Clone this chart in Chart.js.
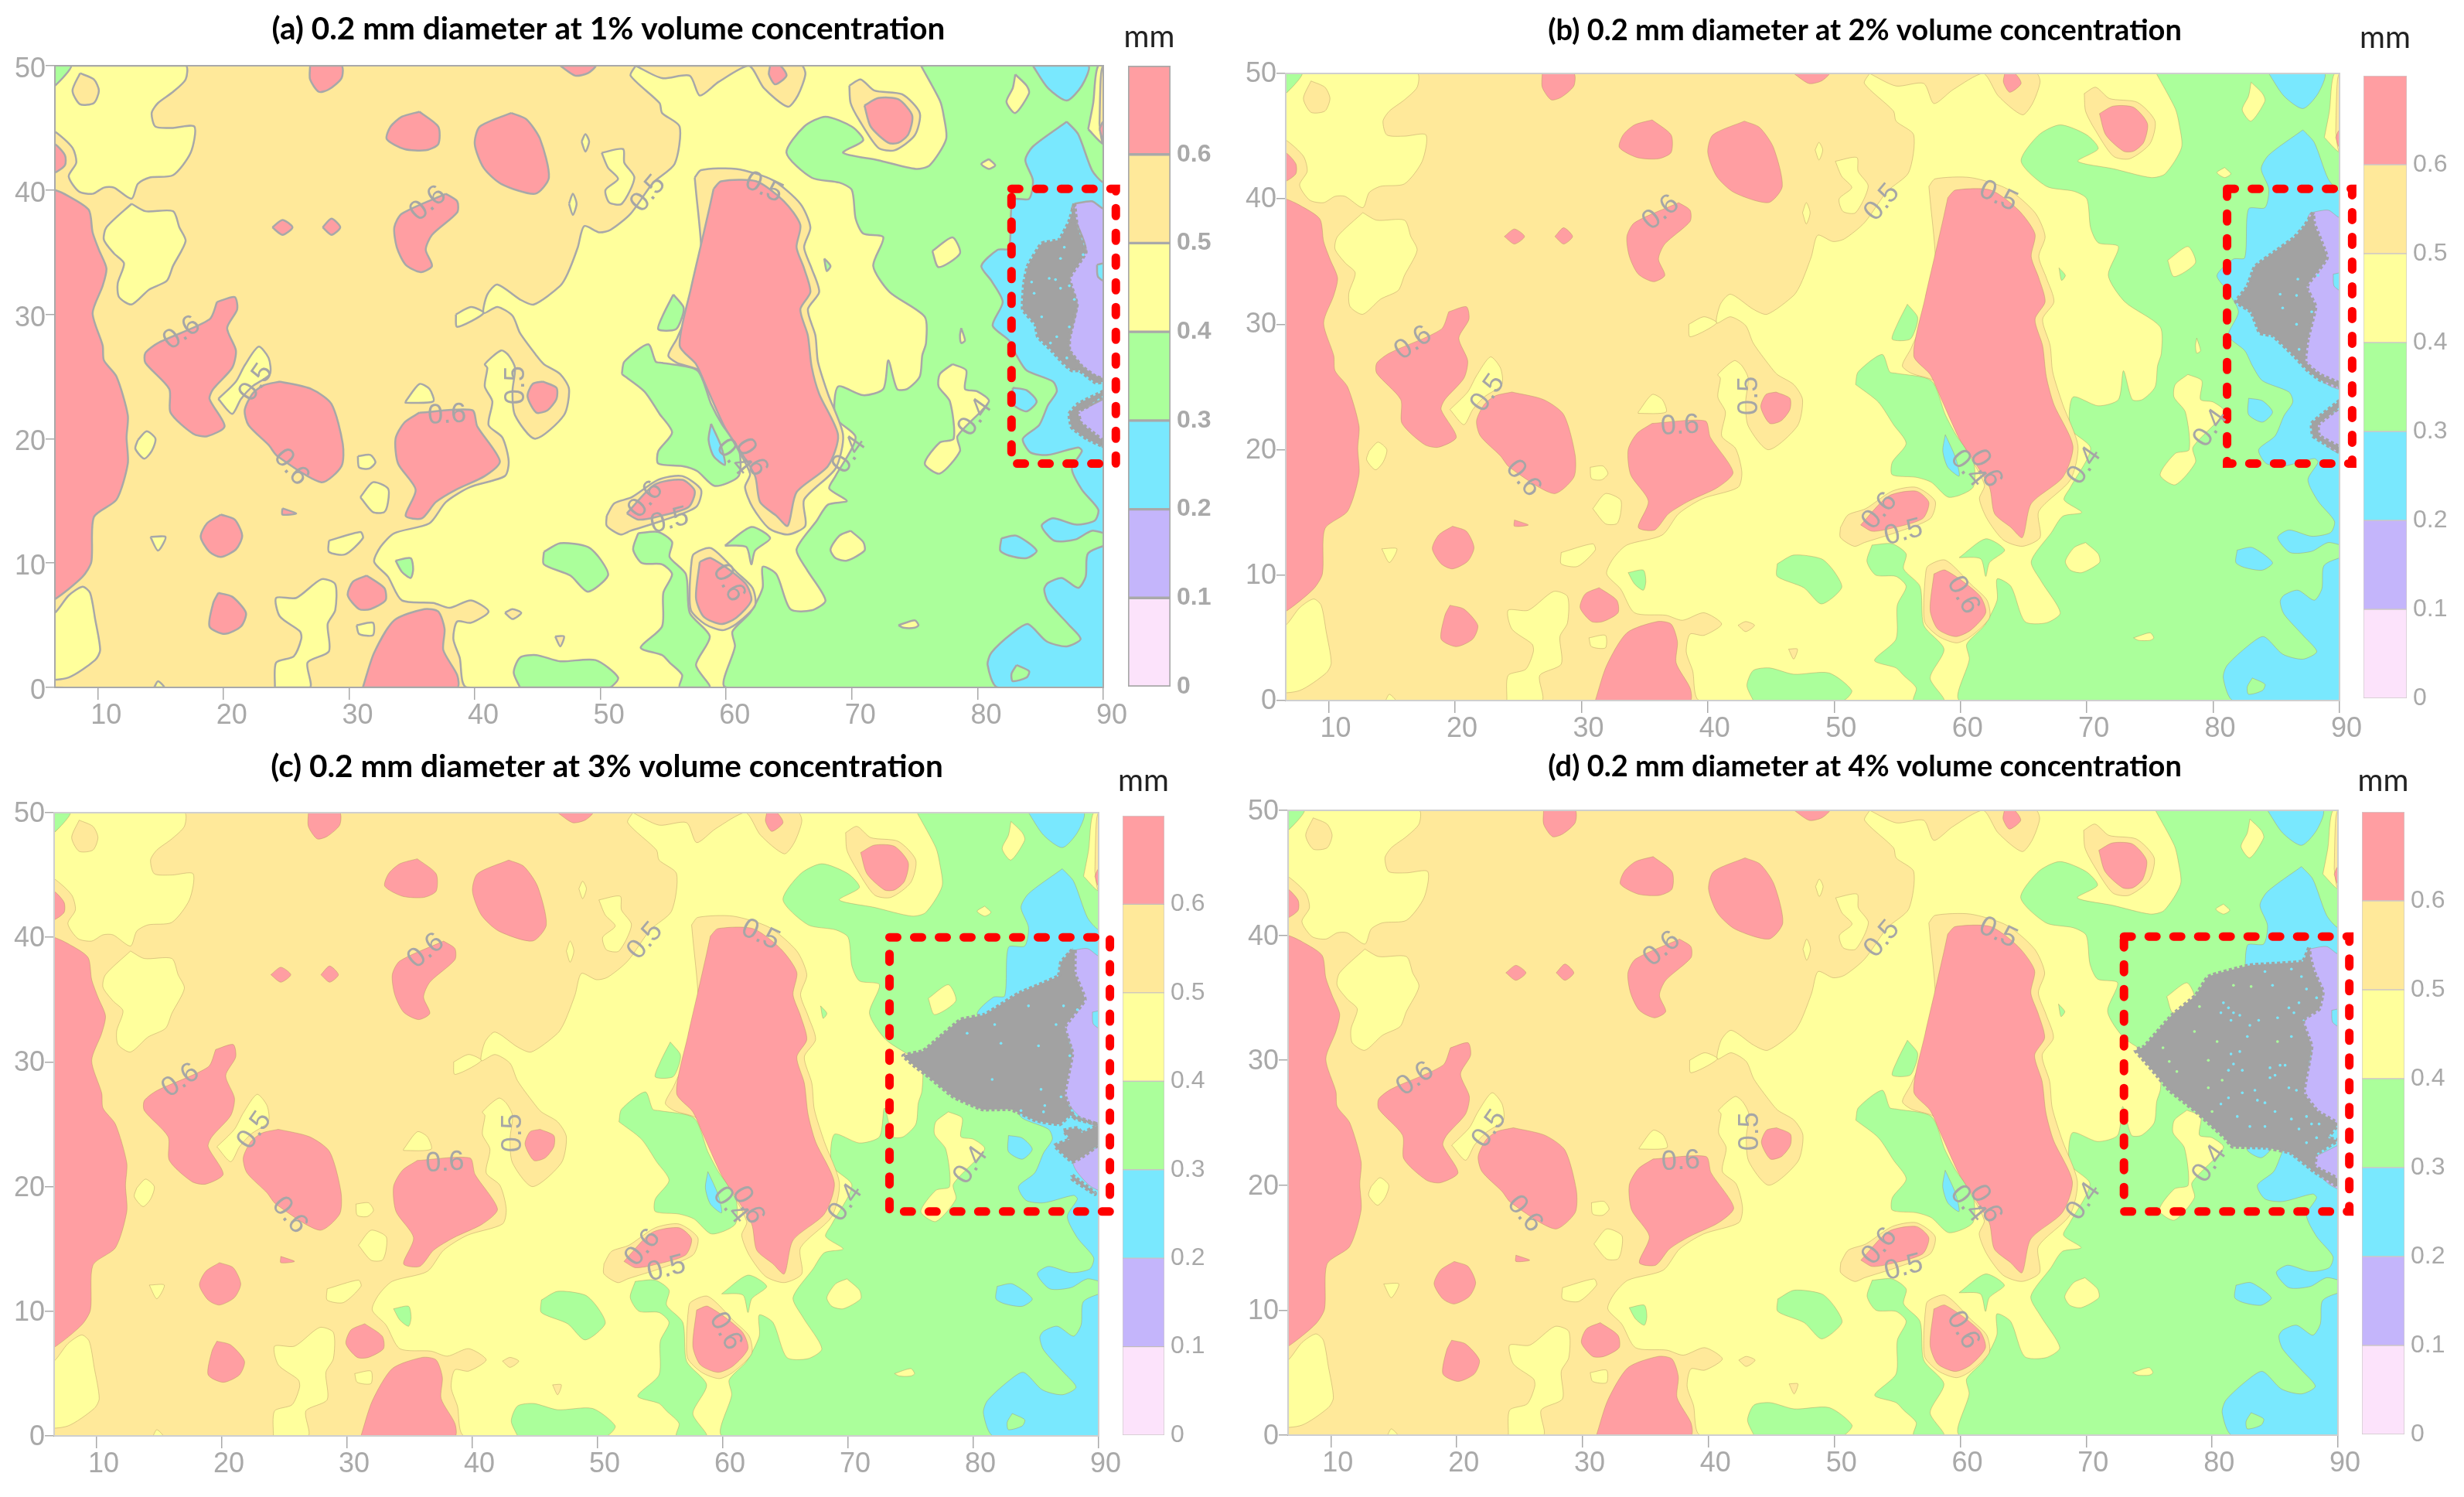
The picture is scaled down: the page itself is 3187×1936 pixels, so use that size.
<!DOCTYPE html>
<html><head><meta charset="utf-8">
<script src="https://cdn.jsdelivr.net/npm/chart.js@4"></script>
<style>html,body{margin:0;padding:0;background:#fff;overflow:hidden;width:3187px;height:1936px}canvas{position:absolute;display:block}</style>
</head><body>
<script>
// ---------- Chart values (data units: x 6.6-90, y 0-50, mm bands) ----------
const titles=["(a) 0.2 mm diameter at 1% volume concentration","(b) 0.2 mm diameter at 2% volume concentration","(c) 0.2 mm diameter at 3% volume concentration","(d) 0.2 mm diameter at 4% volume concentration"];
const barUnit="mm";
const bandValues=[0.1,0.1,0.1,0.1,0.1,0.1,0.1];
const bandColors=["#fce3fb","#c4b5fb","#79e8fe","#abff9b","#ffff9c","#ffe99a","#ff9ea2"];
const [PINK,PURPLE,CYAN,GREEN,YELLOW,ORANGE,RED]=bandColors;
const GREY="#a2a2a2";
const xMin=6.6,xMax=90,yMin=0,yMax=50;

const plotBase=[[6,0],[6,50],[91,50],[91,0]];
const yellowMain=[[52.8,50],[52.4,49.2],[54.7,47],[54.9,46.2],[56.3,45.1],[55.9,42.1],[54.2,40.6],[52.4,38.1],[50.8,36.8],[49.9,36.6],[48.7,37.1],[48.2,35.4],[47.4,33.3],[46.8,32.3],[44.7,30.8],[43.6,31.2],[41.8,32.4],[41,31.6],[40.7,30.1],[41.8,30.6],[43,29.9],[43.6,28.5],[44.9,26.7],[45.5,26],[46.8,25.2],[47.5,24],[47.1,21.9],[44.8,20],[43.2,21.9],[43,23.8],[43.2,25.7],[42.7,26.7],[42.1,27.1],[40.8,26],[41,25.7],[40.8,24.2],[41.4,23],[41.1,21.1],[42.2,20.1],[42.7,18.2],[42.4,17],[39.6,16.1],[37.7,14.9],[36.4,13.2],[33.6,12.4],[32.5,11.3],[32,10.1],[33.1,8.9],[34.2,7],[36.7,6.8],[38,6.4],[39.7,7],[41.1,6.1],[39.7,5.2],[38.6,5.3],[38.3,3.9],[38.8,2.4],[39.4,0],[91,0],[91,50]];
const yellowTopLeft=[[7.9,50],[17,50],[17,48.9],[16,47.9],[14.8,47],[14.3,46.2],[14.6,45.1],[16,45],[17.7,45.1],[17.4,43],[16,41.2],[14.1,41],[13.2,40.5],[12.7,39.3],[11.3,40.2],[10.5,40.2],[9.6,39.7],[8.5,39.9],[7.7,41.1],[8.3,42.2],[8,43.4],[6.6,44.7],[6,44.7],[6,48.4],[6.6,48.4]];
const yellowLeftMid=[[12.7,38.9],[13.8,38.3],[16,38.3],[16.5,37],[17,35.9],[16,33.9],[15.5,32.7],[14.1,32],[12.7,30.8],[11.7,31.4],[11.6,32.5],[12.1,34.1],[11.3,34.9],[10.5,36],[10.7,37]];
const yellowBottomLeft=[[6,6],[6.6,6],[7.7,7.4],[8.8,8.1],[9.4,7.6],[9.8,5.5],[10.2,3],[9.8,2.2],[7.7,0.8],[6,0.8]];
const yellowBottom=[[24.1,0],[24.2,2],[25.6,2.5],[26.2,3.9],[26.1,4.5],[24.5,5.7],[24.2,7.2],[25.8,7.2],[27.8,8.7],[28.9,8.3],[28.9,6.2],[28.3,5.1],[28.4,2.9],[26.7,2],[26.9,0]];
const yellowFinger=[[19.6,23.2],[21,24.6],[21.7,25.9],[22.8,27.4],[23.6,26.5],[23.7,25.2],[22.3,24.2],[21.4,23.2],[20.7,22]];
const yellowPairTop=[[50.1,43],[51.8,43.3],[51.9,42.2],[52.7,41],[51.7,38.9],[50.7,39],[50.4,40],[51.4,40.9],[50.6,41.8]];
const yellowSmallA=[[13.2,19.9],[13.9,20.6],[14.6,20],[14.3,19],[13.7,18.4],[13,19.2]];
const yellowSmallB=[[34.5,23],[35.6,24.4],[36.4,24],[36.7,23],[34.5,22.9]];
const yellowSmallC=[[30.7,18.6],[31.7,18.7],[32.1,18.1],[31.6,17.6],[30.8,17.7]];
const yellowSmallD=[[30.9,15.3],[31.9,16.5],[33.1,16],[33.1,14.9],[32.8,14.1],[31.9,14.1]];
const yellowSmallE=[[28.4,11.8],[30.9,12.5],[31.1,12],[29.7,10.7],[28.4,10.9]];
const yellowSmallF=[[30.6,5],[31.9,5.2],[31.9,4.2],[30.8,4.3]];
const yellowSmallG=[[14.2,12.1],[15.4,12.1],[14.8,11]];
const yellowSmallH=[[14.5,0],[14.8,0.5],[15.3,0]];
const yellowSmallI=[[38.5,30],[39.7,30.6],[40.7,30.1],[38.6,29]];
const yellowDotA=[[48.5,43.9],[48.8,44.5],[49.1,43.9],[48.8,43.1]];
const yellowDotB=[[47.5,38.9],[47.8,39.7],[48.1,38.9],[47.8,38]];

const greenCorner=[[6,50],[7.9,50],[6.6,48.4],[6,48.4]];
const greenMain=[[75.5,50],[77,47.2],[77.3,46],[77.5,44.1],[76.2,42],[75.1,41.7],[72.1,42.4],[69.3,43],[70.9,44],[70,45.1],[67.9,45.9],[66.2,45.1],[64.8,43],[66.8,41],[69,40.6],[70,40],[70.3,37.7],[70.9,36.5],[72.5,36.2],[71.7,33.9],[73,31.8],[75.8,29.8],[75.9,27.7],[75.6,26.7],[75.4,25],[74.4,24],[73.6,24],[72.9,26.3],[72.5,24],[70.9,23.5],[68.9,24.2],[68.7,21.7],[70.3,20.1],[68.7,17],[68.2,16],[69.6,15],[68.1,14.7],[67.2,13.4],[65.6,11.1],[66.4,9.5],[67.9,7],[66.8,6.2],[65.1,6.3],[64,9.1],[62.9,9.7],[62.9,8],[61.9,6],[60.5,4.5],[60.7,3.3],[60,0],[91,0],[91,50]];
const greenLeftOfRed=[[51.7,25.2],[51.9,26.2],[53.8,27.6],[54.4,26.2],[54.9,26.1],[57.7,25.5],[58.8,22.8],[59.7,21.1],[61,19.2],[61,17],[59.1,16.2],[57.7,17.4],[56.5,17.8],[54.6,18],[54.6,19],[55.7,20.5],[54.7,22],[53.5,23.8]];
const greenLower=[[53,12.4],[54.6,12.5],[55.7,11.7],[55.5,10.5],[56.8,9.1],[57.1,6],[58.7,4.1],[57.6,1.8],[58.7,0],[56.3,0],[56.5,1],[55.5,2],[54.9,2.6],[53.2,3.2],[54.9,4.9],[55,7.6],[55.7,9.1],[54.9,9.9],[53.3,10],[52.6,11.1]];
const greenIslandA=[[59.9,11.4],[62,12.9],[63.5,12],[62.3,11],[62,9.9],[61.6,11.3]];
const greenIslandB=[[45.5,10.9],[46.8,11.6],[49,11.3],[50,10.3],[50.6,9],[49,7.7],[47.6,9],[45.5,9.9]];
const greenIslandC=[[33.7,10.2],[34.9,10.4],[35.1,9.5],[34.9,8.8],[34.2,9.3]];
const greenIslandD=[[43.6,0],[43.1,1.2],[43.6,2.4],[44.9,2.6],[46.8,2.1],[49.6,2.2],[51.4,0.8],[50.7,0]];
const greenIslandE=[[55.8,31.6],[56.6,30.6],[56.5,29.8],[56,28.8],[54.6,28.8],[55,30]];
const greenIslandF=[[67.8,34.5],[68.3,33.9],[68,33.5]];

const cyanTop=[[84.4,50],[88.8,50],[88.3,48.4],[87.1,47.2],[85.6,48.2]];
const cyanMain=[[87.1,45.5],[88,44.5],[89.1,41.6],[90,40.6],[91,40.6],[91,12.4],[89.1,12.6],[87.8,11.9],[86.1,11.8],[85.1,13],[86,13.6],[87.8,13.1],[89.3,13.4],[89.6,14.3],[88.3,15.9],[87.5,17.6],[88.3,19],[88,19.3],[85.6,18.7],[84.2,18.9],[83.6,20],[84.9,21.1],[85.6,22.7],[86.3,23.8],[86,24.6],[83.9,25.5],[83.1,26.7],[82.5,27.9],[81.2,29.1],[82,31],[81.1,32.7],[80.3,33.9],[81.6,35.2],[82.5,35.3],[82.8,39.2],[84.1,39.3],[84.4,40.8],[83.8,42.4],[84.4,43.5]];
const cyanLower=[[91,11.7],[88.8,10.8],[88.6,8.9],[88,8],[86.7,8.8],[85.6,8.4],[85.3,7.9],[85.6,6.9],[87.2,5.1],[88.2,3.9],[87.1,3.3],[85.5,3.7],[84,5.1],[82.8,4.4],[81.1,2.8],[80.8,1.8],[81.6,0],[91,0]];
const cyanIslandA=[[81.9,12],[83.1,12.2],[84.7,11],[83.9,10.4],[82.5,10.6],[81.8,11]];
const cyanIslandB=[[82.8,24.1],[83.9,23.9],[84.7,23],[83.9,22.2],[82.8,22.8]];
const cyanIslandC=[[58.8,21.2],[59.6,19.4],[59.9,17.9],[59,18.6],[58.6,19.9]];
const cyanEdge=[[89.5,34],[91,34.2],[91,32.3],[89.6,33]];
const greenInCyan=[[83.1,1.8],[84.1,1.3],[83.9,0.8],[82.8,0.5],[82.7,1.1]];

const purpleUpper=[[87.7,38.9],[89.1,39.1],[90,38.5],[91,38.5],[91,24.8],[89.4,25],[88.3,25.8],[87.3,27.1],[87.3,28.1],[87.9,30.8],[87.3,32.9],[88.6,35.2],[87.9,37.3],[87.5,38.5]];
const purpleLower=[[91,23.7],[88.6,22.5],[87.9,22.2],[88.2,21.3],[89.4,20],[91,19.5]];

const yellowIslandA=[[83,49.3],[83.9,48.4],[84.1,47.8],[83,46.2],[82.3,47.1],[82.8,48.2]];
const yellowIslandB=[[80.9,42.5],[81.4,42],[80.9,41.7],[80.3,42.1]];
const yellowIslandC=[[76.4,35.1],[78,36.2],[78.6,34.9],[76.9,33.8]];
const yellowIslandD=[[78.7,28.9],[79,27.9],[78.7,27.7],[78.6,28.3]];
const yellowIslandE=[[78,26],[79.1,25.5],[79,24],[80,23.8],[80.9,23],[78.4,20.2],[78.6,19],[77,17.2],[75.8,18],[77,19.7],[78.1,20],[77.8,23],[76.9,24.2],[77,25.2]];
const yellowIslandF=[[69.9,12.6],[70.9,11.7],[71,11],[69.6,10.2],[68.7,10.4],[68.3,11.1],[69,12.2]];
const yellowIslandG=[[73.7,5],[75,5.4],[75.3,5],[75,4.8],[74.1,4.8]];
const yellowEdge=[[88.8,44.9],[89.2,47],[89.6,50],[91,50],[91,43.7],[90,43.7]];
const orangeEdge=[[89.7,45.3],[89.8,49],[90,50],[91,50],[91,43.7],[90,43.7]];
const redEdge=[[89.7,44.9],[90,45.5],[91,45.5],[91,44.1],[90,44.1]];

const orangeTop=[[52.8,50],[54.9,49],[57.1,49.2],[57.9,47.6],[59.4,48.7],[61.8,50],[63,48.2],[64.9,46.7],[65.7,47.6],[66.3,49.3],[66,50]];
const orangeCircle=[[69.8,48.4],[70.7,48.9],[71.8,48],[74,47.7],[75.4,46.2],[75,44.4],[73.4,43.2],[72.1,43.4],[70.6,45.6],[69.9,47]];
const orangeRing=[[57.5,41],[58,41.6],[60.8,41.7],[63.7,40.8],[65.9,38.9],[66.7,37],[66.2,35.4],[66.8,33.7],[67.4,31.8],[66.5,30.4],[67.1,28.3],[67.3,26.2],[68.1,23.6],[69.3,20.3],[68.7,17.6],[66.2,15.1],[66.3,13],[64.9,12.3],[63.4,12.8],[62.1,14.5],[61.5,16.1],[61.9,17.2],[60.2,20.5],[58.7,24.2],[57.9,25.5],[56.1,26.1],[55.4,26.7],[56.1,28.1],[57.9,32.5],[58,35.6],[57.6,39.9]];
const orangeSmear=[[50.5,13.8],[51.1,14.8],[52.5,15.3],[54.6,16.7],[56.5,17],[58,15.9],[57.6,14.5],[54.9,13.4],[52.4,12.6],[51.6,12.3],[50.5,13]];
const orangeLow=[[57.2,9.7],[57.4,10.7],[58.8,11.2],[60.9,9.2],[62.1,8],[62.3,6.6],[60.8,5.1],[59.7,4.6],[58.3,5.1],[57.2,6.2],[57.1,8]];
const orangeInY1=[[8.6,49.4],[9.7,48.9],[10.1,48],[9.7,47],[8.6,46.9],[8,48]];
const orangeDotA=[[42.4,6],[43,6.3],[43.7,6],[43,5.5]];
const orangeDotB=[[46.4,4.1],[47.1,4.1],[46.8,3.3]];

const redLeft=[[6,40],[6.6,40],[7.7,39.5],[9.3,38.4],[9.6,36.6],[10.1,35.2],[10.7,33.7],[10.4,32.3],[9.6,30.1],[10.4,27.5],[10.5,26.3],[11.5,25],[12.4,21.9],[12.3,20.1],[12.4,18],[11.5,15.1],[9.7,13.7],[9.5,10.1],[8.8,8.9],[6.6,7.1],[6,7.1]];
const redLeftSmall=[[6,43.7],[6.6,43.7],[7.4,42.8],[7.4,42],[6.6,41.4],[6,41.4]];
const redTop=[[26.9,50],[29.4,50],[29.4,49],[28.4,48.1],[27.6,47.9],[26.9,48.9]];
const redRound=[[35.6,46.3],[37.1,45.1],[37.1,43.7],[36.1,43.2],[34.4,43.3],[33,44.1],[33.3,45.1],[34.2,45.9]];
const redOval=[[42.9,46.2],[44.1,45.7],[45.2,44.1],[45.9,41],[44.8,39.7],[42.1,40.5],[40.7,41.8],[40,43.7],[40.4,45.1]];
const redTopMid=[[46.8,50],[49.6,50],[49,49.4],[48,49.2]];
const redDiamondA=[[23.9,37],[24.7,37.6],[25.5,37],[24.7,36.4]];
const redDiamondB=[[27.9,37],[28.6,37.7],[29.3,37],[28.6,36.4]];
const redComma=[[37.7,39.7],[38.6,39.1],[38.6,38.2],[36.6,36.4],[36.1,35.2],[36.6,33.9],[35.7,33.4],[34.5,34],[33.8,35.4],[33.6,37],[34.2,38.1]];
const redLobeLeft=[[19.5,31],[20.9,31.4],[21.1,30.4],[20.3,28.9],[21,27.1],[20.7,25.7],[19.2,24],[18.9,23.2],[20.1,21],[18.7,20.2],[17.6,20.4],[15.8,22.1],[15.7,24],[13.8,26.1],[13.8,26.9],[14.8,27.7],[18.9,29.6]];
const redEgg=[[24.5,24.6],[27,24],[28.6,22.8],[29.5,19.6],[29.4,17.8],[27.8,16.5],[24.3,18.6],[23.6,19.5],[22,21.1],[21.7,22.3],[22.3,23.6],[23.2,24.3]];
const redBulb=[[35.6,22.1],[39.8,22.3],[40.2,21],[42,18.2],[40.8,17],[38.5,15.9],[36.9,14.9],[35.8,13.6],[34.5,13.8],[35.3,15.9],[33.9,18],[33.7,20],[34.4,21.3]];
const redSpot=[[45.4,24.6],[46.5,24.1],[46.5,23.2],[45.8,22.3],[44.9,22.1],[44.2,23.4],[44.6,24.4]];
const redDiscA=[[19.8,13.9],[20.9,13.5],[21.5,12.2],[21,11.1],[19.8,10.5],[18.9,10.9],[18.2,12.1],[18.7,13.2]];
const redDiscB=[[19.6,7.6],[20.7,7.3],[21.8,6],[21.4,4.9],[20.1,4.3],[18.9,4.9],[19.2,6.8]];
const redDiscC=[[31.4,9],[32.8,8],[32.9,7],[31.7,6.3],[30.8,6.3],[29.9,7.4],[30.3,8.5]];
const redBottom=[[31.1,0],[32,2.8],[33.6,5.4],[36,6.3],[37.1,6.1],[37.6,4.7],[37.5,3],[38.6,1],[38.6,0]];
const redSliver=[[24.7,14.4],[25.8,14],[24.7,13.9]];
const redInTop=[[63.5,50],[64.3,50],[64.8,49.2],[63.9,48.5],[63.4,49.3]];
const redInCircle=[[71,46.8],[72.1,47.4],[73.7,47.3],[74.8,46],[74.5,44.5],[73.7,43.8],[72.9,43.8],[71.5,45.1]];
const redMain=[[59,40.1],[59.6,40.7],[62.4,40.7],[64.6,39.1],[65.9,37.2],[65.6,35.4],[66.2,33.7],[66.7,31.8],[65.9,30.4],[66.5,28.3],[66.8,25.8],[67.4,23.6],[68.9,20.3],[68.1,17.8],[65.6,15.7],[64.9,13],[64,13.8],[62.7,14.9],[62.3,17],[61,19.2],[59.9,20.9],[58.5,24],[57.6,26],[56.3,27.5],[57.2,32.1],[58,35.6],[58.7,38.7]];
const redSmear=[[52.1,14],[54.3,16.3],[56.5,16.7],[57.5,15.8],[57,14.5],[54.4,13.7],[53,13.5]];
const redLow=[[57.9,10.1],[58.8,10.4],[61.5,8.4],[62,7],[60.8,5.6],[59.6,5.1],[58.2,5.7],[57.6,7.2]];

// grey (out-of-range) regions, one list per panel
const greyA=[[87.7,38.9],[87.3,37.5],[86.5,36],[85.1,35.7],[84,33.9],[83.7,32.5],[83.6,30.4],[84.6,29.2],[84.8,28.2],[85.9,27.1],[86.8,26.1],[87.5,25.5],[88.1,25.5],[89.4,24.5],[90,24.6],[90,24.8],[89.4,25],[88.3,25.8],[87.3,27.1],[87.3,28.1],[87.9,30.8],[87.3,32.9],[88.6,35],[87.9,37.1]];
const greyARim=[[90,23.8],[88,22.8],[87.3,22],[87.5,20.9],[88.7,20],[90,19.4],[90,19.8],[89.4,20.3],[88.2,21.3],[88,22.2],[88.6,22.5],[90,23.5]];
const greyB=[[87.9,38.9],[87.2,37.8],[86.4,36.9],[84.9,35.8],[83.3,34.6],[82.7,33],[81.8,31.8],[83,31],[83.7,29.3],[84.7,29.1],[86.4,27.5],[87.4,26.4],[88.4,25.6],[90,25],[90,25.3],[88.4,26],[87.3,27],[87.5,28.9],[88.1,31.4],[87.4,33],[89,35.3],[88,38]];
const greyBRim=[[90,23.9],[88.6,22.8],[87.8,22.1],[87.9,21.1],[88.8,20.5],[90,19.8],[90,20.2],[88.4,21.1],[88.3,22],[90,23.4]];
const greyC=[[87.9,39],[87,38],[86.8,36.9],[83.6,35.5],[80.9,33.8],[79,33.4],[77.2,31.9],[76,30.9],[74.4,30.5],[75.4,29.6],[76.2,29],[78.4,27.2],[80.7,26.2],[83,26.2],[85,25.3],[86.9,25],[87.7,25.7],[89.9,25],[88.1,25.5],[87.3,27.4],[87.9,30.7],[87.3,32.8],[88.9,35],[88.1,37.1],[88.1,39]];
const greyCLump=[[87.2,24.5],[88.3,24.7],[88.7,24.3],[90,24.9],[90,23.4],[88.7,22.4],[87.9,22],[86.5,23.3],[87.7,23.8]];
const greyCTrail=[[87.9,20.9],[89.7,19.5],[89.7,19.4],[87.9,20.6]];
const greyD=[[87.7,39],[87.2,37.9],[83,37.6],[79.7,36.7],[78.7,35.2],[76.8,33.6],[74.6,31.1],[73.9,30.8],[74.4,30.2],[75.6,28.8],[76.6,27.6],[78.7,25.9],[81,23.8],[81.6,23.1],[84.2,23],[86.2,22.6],[88.1,21.1],[90,19.9],[90,20.5],[88.2,21.5],[88.3,22.5],[90,23.6],[89.2,23.8],[90,24.9],[88.4,25.9],[87.3,27.4],[87.9,31.1],[87.2,33.2],[88.5,34.1],[88.8,35.5],[88.1,37.1],[87.8,38.2]];

// small unfilled cells inside the grey regions
const specksA=[[86.9,35.4],[86.6,34.5],[88.4,34.8],[85.7,32.9],[86.2,32.8],[84.3,32.6],[86.6,32.1],[84.5,31.7],[87.3,32.3],[87.7,31.2],[85.1,29.8],[87.3,29],[86.3,28.2],[85.8,27.7],[87.1,26.5]];
const specksB=[[86.7,33.6],[88.3,33.9],[85.3,32.4],[86.6,32.3],[85.5,31.3],[87.8,31],[86.6,30],[86.8,28]];
const specksC=[[81.7,33],[84.4,34.5],[87.2,34.5],[82.2,31.5],[85.2,31.3],[81.5,28.6],[85.4,27.8],[87,27.2],[85.7,26.5],[85.6,26],[83.8,26.1],[86.6,33],[79.5,32.3],[87.7,30.5],[88.3,34.2]];
const specksDCyan=[[80.9,34.6],[81.3,34.2],[81.7,33.8],[82.2,33.6],[80.7,33.8],[81.5,33.2],[83,32.8],[83.7,33.2],[82.8,31.9],[82.2,30.7],[81.5,30.5],[81.7,29.7],[82.4,29.2],[81.3,29.2],[84.6,29.4],[85.4,29.6],[85.8,29.6],[85,28.8],[84.6,28.6],[83.4,27.6],[84.2,26.6],[83.6,26.8],[86.1,27.8],[86.7,27.6],[85.2,33.4],[86.3,31.9],[86.9,34.6],[86.5,33.8],[86.1,34.2],[87.5,35.7],[84.2,37.1],[84.8,36],[87.1,36.7],[86.3,37.3],[88.3,35],[85,25.9],[86.3,25.3],[87.5,25.5],[87.9,24.9],[88.5,24.9],[86.9,24.5],[87.5,23.4],[88.3,23.8],[82,25.5],[83,24.7],[84.2,24.7],[82.4,27.4],[81.3,27],[80.7,26.5]];
const specksDGreen=[[80.4,31.5],[85.2,31.5],[76.6,29.9],[76.1,31],[79,34.3],[78.6,32.3],[80.8,28.4],[79.7,27.8],[79.7,30],[77.2,29.1],[81.7,36],[83.1,35.9],[80,25.9]];

// red dashed highlight boxes [left, right, bottom, top] in data units
const boxA=[82.7,91,18,40.1];
const boxB=[81.1,91,18.9,40.8];
const boxC=[73.3,90.9,18,40];
const boxD=[73,90.9,17.9,39.9];

// in-plot contour labels
const contourText=["0.6","0.5","0.5","0.6","0.5","0.5","0.6","0.6","0.6","0.5","0.4","0.4","0.4","0.6","0.6"];
const contourX=[36.3,53.8,63,16.7,22.6,43.3,37.8,25.4,53.6,55.5,79.8,69.8,60.6,62,60.2];
const contourY=[38.9,39.7,40.2,28.5,24.5,24.3,21.9,17.7,15.1,13.4,21.7,18.7,18.5,18.5,8.4];
const contourAngle=[-40,-50,25,-35,-55,-90,-3,50,-50,-15,-55,-55,50,60,60];

const xTicks=[10,20,30,40,50,60,70,80,90];
const yTicks=[0,10,20,30,40,50];
const barTickLabels=["0","0.1","0.2","0.3","0.4","0.5","0.6",""];

// ---------- paint order, bottom to top ----------
const layers=[
 [ORANGE,[plotBase]],
 [YELLOW,[yellowMain,yellowTopLeft,yellowLeftMid,yellowBottomLeft,yellowBottom,yellowFinger,yellowPairTop,yellowSmallA,yellowSmallB,yellowSmallC,yellowSmallD,yellowSmallE,yellowSmallF,yellowSmallG,yellowSmallH,yellowSmallI,yellowDotA,yellowDotB]],
 [ORANGE,[orangeTop,orangeInY1,orangeDotA,orangeDotB]],
 [GREEN,[greenCorner,greenMain,greenLeftOfRed,greenLower,greenIslandA,greenIslandB,greenIslandC,greenIslandD,greenIslandE,greenIslandF]],
 [ORANGE,[orangeCircle]],
 [CYAN,[cyanTop,cyanMain,cyanLower,cyanIslandA,cyanIslandB,cyanIslandC]],
 [PURPLE,[purpleUpper,purpleLower]],
 [CYAN,[cyanEdge]],
 [GREEN,[greenInCyan]],
 [YELLOW,[yellowIslandA,yellowIslandB,yellowIslandC,yellowIslandD,yellowIslandE,yellowIslandF,yellowIslandG,yellowEdge]],
 [ORANGE,[orangeEdge,orangeRing,orangeSmear,orangeLow]],
 [RED,[redEdge,redLeft,redLeftSmall,redTop,redRound,redOval,redTopMid,redDiamondA,redDiamondB,redComma,redLobeLeft,redEgg,redBulb,redSpot,redDiscA,redDiscB,redDiscC,redBottom,redSliver,redInTop,redInCircle,redMain,redSmear,redLow]]
];

// ---------- page layout of the four panels ----------
const panels=[
 {L:71,R:1427,T:85,B:889,tx:787,ty:38,ts:40.5,top:0,left:0,line:"#a8a8a8",lw:2.5,frame:"#a9a9a9",yOff:5,xOff:11,
  grey:[greyA,greyARim],specks:[[specksA,CYAN]],box:boxA,
  bar:{l:1459,r:1514,t:85,b:888,my:48,bold:true,border:"#a9a9a9",bw:2}},
 {L:1663,R:3026,T:95,B:906,tx:2412,ty:40,ts:38,top:0,left:1590,line:"rgba(170,135,90,.4)",lw:1,frame:"#cfcfcf",yOff:1,xOff:9,
  grey:[greyB,greyBRim],specks:[[specksB,CYAN]],box:boxB,
  bar:{l:3057,r:3113,t:98,b:903,my:49,bold:false,border:"rgba(160,150,150,.5)",bw:1}},
 {L:70,R:1421,T:1051,B:1857,tx:785,ty:992,ts:40.5,top:960,left:0,line:"rgba(170,135,90,.4)",lw:1,frame:"#cfcfcf",yOff:2,xOff:9,
  grey:[greyC,greyCLump,greyCTrail],specks:[[specksC,CYAN]],box:boxC,
  bar:{l:1452,r:1506,t:1055,b:1856,my:1010,bold:false,border:"rgba(160,150,150,.5)",bw:1}},
 {L:1666,R:3024,T:1048,B:1856,tx:2412,ty:992,ts:38,top:960,left:1590,line:"rgba(170,135,90,.4)",lw:1,frame:"#cfcfcf",yOff:2,xOff:9,
  grey:[greyD],specks:[[specksDCyan,CYAN],[specksDGreen,GREEN]],box:boxD,
  bar:{l:3055,r:3110,t:1050,b:1855,my:1010,bold:false,border:"rgba(160,150,150,.5)",bw:1}}
];

const AXIS="#a9a9a9",FONT="'Liberation Sans',Arial,sans-serif",TITLEFONT="Lato,'Open Sans',sans-serif";
const pts=a=>{const o=a.map(p=>({x:p[0],y:p[1]}));o.push({x:a[0][0],y:a[0][1]});return o;};
// an empty scale that only reserves room, so that a title centres over the whole canvas
const spacer=(position,w)=>({position,display:true,afterFit:s=>{s.width=w;},ticks:{display:false},grid:{display:false,drawTicks:false},border:{display:false}});

const contourPlugin={id:"contourLabels",afterDatasetsDraw(chart){
  const {ctx,scales:{x,y},chartArea:c}=chart;
  ctx.save();ctx.beginPath();ctx.rect(c.left,c.top,c.width,c.height);ctx.clip();
  ctx.fillStyle="#a6a6a6";ctx.font="36px "+FONT;ctx.textAlign="center";ctx.textBaseline="middle";
  contourText.forEach((t,i)=>{ctx.save();ctx.translate(x.getPixelForValue(contourX[i]),y.getPixelForValue(contourY[i]));ctx.rotate(contourAngle[i]*Math.PI/180);ctx.fillText(t,0,0);ctx.restore();});
  ctx.restore();
}};
function makeCanvas(left,top,w,h,z){const c=document.createElement("canvas");c.width=w;c.height=h;c.style.left=left+"px";c.style.top=top+"px";c.style.width=w+"px";c.style.height=h+"px";c.style.zIndex=z;document.body.appendChild(c);return c;}

panels.forEach((p,i)=>{
  const width=2*(p.tx-p.left),height=p.B+70-p.top;
  const datasets=[];
  const poly=(arr,color,extra)=>datasets.push(Object.assign({data:pts(arr),showLine:true,pointRadius:0,tension:0.25,fill:"shape",backgroundColor:color,borderColor:p.line,borderWidth:p.lw},extra||{}));
  layers.forEach(([color,list])=>list.forEach(a=>poly(a,color)));
  p.grey.forEach(a=>poly(a,GREY,{borderColor:GREY,borderWidth:5,borderDash:[4,3],tension:0.1}));
  p.specks.forEach(([a,col])=>datasets.push({data:a.map(q=>({x:q[0],y:q[1]})),showLine:false,pointRadius:1.8,pointBorderWidth:0,pointBackgroundColor:col}));
  datasets.push({data:pts([[xMin,yMin],[xMin,yMax],[xMax,yMax],[xMax,yMin]]),showLine:true,pointRadius:0,fill:false,borderColor:p.frame,borderWidth:2,clip:false});
  const [bl,br,bb,bt]=p.box;
  datasets.push({data:pts([[bl,bt],[br,bt],[br,bb],[bl,bb]]),showLine:true,pointRadius:0,fill:false,borderColor:"#ff0000",borderWidth:11,borderDash:[10,22],borderCapStyle:"round",clip:false});
  datasets.forEach((d,k)=>d.order=datasets.length-k);
  const tTop=p.ty-p.ts/2-p.top,tBot=p.T-p.top-tTop-p.ts;
  new Chart(makeCanvas(p.left,p.top,width,height,1),{
    type:"scatter",
    data:{datasets},
    plugins:[contourPlugin],
    options:{responsive:false,animation:false,events:[],devicePixelRatio:1,
      plugins:{legend:{display:false},tooltip:{enabled:false},
        title:{display:true,text:titles[i],color:"#000",font:{family:TITLEFONT,weight:"bold",size:p.ts,lineHeight:1},padding:{top:tTop,bottom:tBot}}},
      scales:{
        x:{type:"linear",min:xMin,max:xMax,
          afterBuildTicks:s=>{s.ticks=xTicks.map(v=>({value:v}));},
          afterFit:s=>{s.height=70;},
          border:{color:AXIS,width:2},
          grid:{drawOnChartArea:false,drawTicks:true,tickLength:16,color:AXIS,lineWidth:1.5},
          ticks:{color:AXIS,font:{family:FONT,size:36,lineHeight:1},padding:3,labelOffset:p.xOff,maxRotation:0,autoSkip:false}},
        y:{type:"linear",min:yMin,max:yMax,
          afterBuildTicks:s=>{s.ticks=yTicks.map(v=>({value:v}));},
          afterFit:s=>{s.width=p.L-p.left;},
          border:{color:AXIS,width:2},
          grid:{drawOnChartArea:false,drawTicks:true,tickLength:12,color:AXIS,lineWidth:1.5},
          ticks:{color:AXIS,font:{family:FONT,size:36,lineHeight:1},padding:0,labelOffset:p.yOff,autoSkip:false}},
        yRoom:spacer("right",width-(p.R-p.left))
      }
    }
  });

  // colour bar
  const b=p.bar,side=75,cTop=b.t-70,mmTop=b.my-20-cTop,mmBot=b.t-cTop-mmTop-40;
  new Chart(makeCanvas(b.l-side,cTop,(b.r-b.l)+2*side,b.b-cTop+25,2),{
    type:"bar",
    data:{labels:[barUnit],datasets:bandValues.map((v,k)=>({data:[v],backgroundColor:bandColors[k],borderColor:b.border,borderWidth:b.bw,borderSkipped:false,barPercentage:1,categoryPercentage:1,stack:"s"}))},
    options:{responsive:false,animation:false,events:[],devicePixelRatio:1,
      layout:{padding:{bottom:25}},
      plugins:{legend:{display:false},tooltip:{enabled:false},
        title:{display:true,text:barUnit,color:"#222",font:{family:TITLEFONT,weight:"normal",size:40,lineHeight:1},padding:{top:mmTop,bottom:mmBot}}},
      scales:{
        x:{display:false,stacked:true},
        y:{stacked:true,position:"right",min:0,max:0.7,
          afterBuildTicks:s=>{s.ticks=barTickLabels.map((t,k)=>({value:k/10}));},
          afterFit:s=>{s.width=side;},
          border:{display:false},
          grid:{display:false,drawTicks:false},
          ticks:{color:AXIS,autoSkip:false,padding:8,font:{family:FONT,size:32,lineHeight:1,weight:b.bold?"bold":"normal"},
            callback:(v,k)=>barTickLabels[k]}},
        yRoom:spacer("left",side)
      }
    }
  });
});
</script>
</body></html>
